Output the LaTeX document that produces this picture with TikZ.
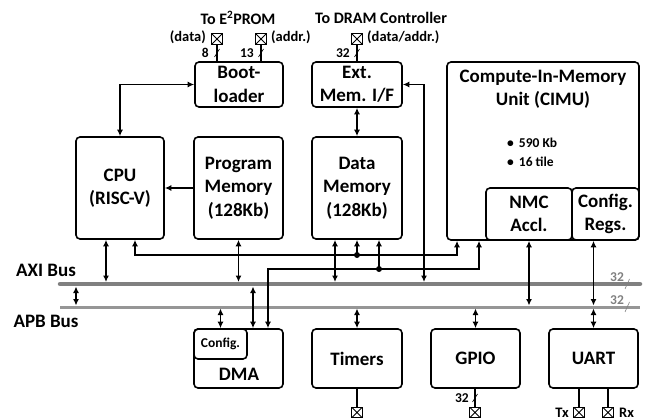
\documentclass[tikz,border=0pt]{standalone}
\usepackage{fontspec}
\setmainfont{Carlito}
\usetikzlibrary{arrows.meta,calc}
\definecolor{axicol}{RGB}{128,128,128}
\definecolor{apbcol}{RGB}{150,150,150}
\newcommand\bigf{\fontsize{19}{23.5}\selectfont\bfseries}
\newcommand\midf{\fontsize{16}{18}\selectfont\bfseries}
\newcommand\smf{\fontsize{14.5}{17}\selectfont\bfseries}
\newcommand\tinyf{\fontsize{13.5}{16}\selectfont\bfseries}
\begin{document}
\begin{tikzpicture}[x=1pt,y=-1pt,
  box/.style={draw, rounded corners=4pt, line width=1.6pt, align=center, inner sep=0pt, font=\bigf},
  con/.style={line width=1.7pt},
  dbl/.style={con, {Latex[length=6.5pt,width=6pt]}-{Latex[length=6.5pt,width=6pt]}},
  arr/.style={con, -{Latex[length=6.5pt,width=6pt]}},
  pinbox/.style={draw, line width=1.2pt, minimum size=10.5pt, inner sep=0pt,
    path picture={\draw[line width=1pt] (path picture bounding box.north west) -- (path picture bounding box.south east)
      (path picture bounding box.north east) -- (path picture bounding box.south west);}},
  jdot/.style={circle, fill, inner sep=0pt, minimum size=6pt},
  lbl/.style={inner sep=0pt, font=\smf},
  nlbl/.style={inner sep=0pt, font=\tinyf},
  mlbl/.style={inner sep=0pt, font=\midf},
  buslbl/.style={inner sep=0pt, font=\bigf},
  glbl/.style={inner sep=0pt, font=\tinyf, text=axicol},
  slash/.style={line width=0.6pt}]
\useasboundingbox (0,0) rectangle (646,420);

% ---- upper blocks
\node[box, minimum width=88pt, minimum height=102pt] (cpu) at (120,188) {CPU\\(RISC-V)};
\node[box, minimum width=89pt, minimum height=102pt] (pmem) at (238.5,188) {Program\\Memory\\(128Kb)};
\node[box, minimum width=90pt, minimum height=102pt] (dmem) at (357,188) {Data\\Memory\\(128Kb)};
\node[box, minimum width=88pt, minimum height=45pt] (boot) at (239,84.5) {Boot-\\loader};
\node[box, minimum width=90pt, minimum height=45pt] (ext) at (357,84.5) {Ext.\\Mem. I/F};
\node[box, minimum width=192pt, minimum height=178pt] (cimu) at (543,151) {};
\node[align=center, font=\bigf, inner sep=0pt] (cimut) at (543,89) {Compute-In-Memory\\Unit (CIMU)};
\node[nlbl, anchor=west] (b1) at (507,143) {\textbullet\hspace{5pt}590 Kb};
\node[nlbl, anchor=west] (b2) at (507,162) {\textbullet\hspace{5pt}16 tile};
\node[box, minimum width=86pt, minimum height=52pt] (nmc) at (529,214) {NMC\\Accl.};
\node[box, minimum width=67pt, minimum height=52pt] (creg) at (605.5,214) {Config.\\Regs.};

% ---- lower blocks
\node[box, minimum width=89pt, minimum height=59pt] (dma) at (238.5,358.5) {};
\node[box, minimum width=53pt, minimum height=30pt, font=\tinyf] (dcfg) at (220.5,344) {Config.};
\node[font=\bigf, inner sep=0pt] (dmat) at (239,374) {DMA};
\node[box, minimum width=90pt, minimum height=59pt] (tim) at (357,358.5) {Timers};
\node[box, minimum width=89pt, minimum height=59pt] (gpio) at (475.5,358.5) {GPIO};
\node[box, minimum width=89pt, minimum height=59pt] (uart) at (593.5,358.5) {UART};

% ---- pins
\node[pinbox] (pd) at (217,39) {};
\node[pinbox] (pa) at (261,39) {};
\node[pinbox] (pdr) at (357,39) {};
\node[pinbox] (pt) at (357,412.5) {};
\node[pinbox] (pg) at (475,412.5) {};
\node[pinbox] (ptx) at (579,412.5) {};
\node[pinbox] (prx) at (608,412.5) {};

\draw[con] (pd) -- (pd |- boot.north);
\draw[con] (pa) -- (pa |- boot.north);
\draw[con] (pdr) -- (ext.north);
\draw[con] (pt) -- (tim.south);
\draw[con] (pg) -- (pg |- gpio.south);
\draw[con] (ptx) -- (ptx |- uart.south);
\draw[con] (prx) -- (prx |- uart.south);

\draw[slash] (214.5,57) -- (219.5,49);
\draw[slash] (258.5,57) -- (263.5,49);
\draw[slash] (354.5,57) -- (359.5,49);
\draw[slash] (472.5,402) -- (477.5,394);

\node[nlbl, anchor=east] (n8) at (209,53) {8};
\node[nlbl, anchor=east] (n13) at (254,53) {13};
\node[nlbl, anchor=east] (n32) at (350,53) {32};
\node[nlbl, anchor=east] (n32g) at (469,398) {32};
\node[lbl, anchor=east] (ndata) at (206,37.5) {(data)};
\node[lbl, anchor=west] (naddr) at (271,37.5) {(addr.)};
\node[lbl, anchor=west] (ndraddr) at (367,37.5) {(data/addr.)};
\node[mlbl] (te2) at (238,18) {To E\textsuperscript{2}PROM};
\node[mlbl] (tdram) at (381,18) {To DRAM Controller};
\node[lbl, anchor=east] (ntx) at (569,413) {Tx};
\node[lbl, anchor=west] (nrx) at (619,413) {Rx};

% ---- buses
\coordinate (axiL) at (60,284);
\coordinate (axiR) at (640,284);
\coordinate (apbL) at (60,307);
\coordinate (apbR) at (640,307);
\draw[line width=4.5pt, axicol, line cap=round] (axiL) -- (axiR);
\draw[line width=3pt, apbcol] (apbL) -- (apbR);
\node[buslbl] (axil) at (46,270) {AXI Bus};
\node[buslbl] (apbl) at (46,321) {APB Bus};
\node[glbl] (g1) at (617,277) {32};
\node[glbl] (g2) at (617,300.5) {32};
\draw[slash, axicol] (625,289) -- (629.5,279);
\draw[slash, axicol] (625,312) -- (629.5,302);

\coordinate (axiT) at (0,282);
\coordinate (axiB) at (0,286.5);
\coordinate (apbT) at (0,305.5);
\coordinate (apbB) at (0,308.5);

% ---- connectors
\draw[dbl] (boot.west) -| (cpu.north);
\draw[arr] (pmem.west) -- (cpu.east);
\draw[dbl] (ext.south) -- (dmem.north);
\coordinate (xe) at (424,0);
\draw[dbl] (xe |- axiT) |- (ext.east);

\coordinate (x1) at (106,0);
\draw[dbl] (x1 |- cpu.south) -- (x1 |- axiT);
\draw[dbl] (pmem.south) -- (pmem.south |- axiT);
\coordinate (x3) at (335,0);
\draw[dbl] (x3 |- dmem.south) -- (x3 |- axiT);
\coordinate (x4) at (76,0);
\draw[dbl] (x4 |- axiB) -- (x4 |- apbT);
\draw[dbl] (dcfg.north |- apbB) -- (dcfg.north);
\coordinate (x5) at (253,0);
\draw[dbl] (x5 |- axiB) -- (x5 |- dma.north);
\draw[dbl] (tim.north |- apbB) -- (tim.north);
\draw[dbl] (gpio.north |- apbB) -- (gpio.north);
\draw[dbl] (uart.north |- apbB) -- (uart.north);
\draw[dbl] (nmc.south) -- (nmc.south |- apbT);
\draw[dbl] (uart.north |- creg.south) -- (uart.north |- apbT);

\coordinate (c1) at (135,255);
\coordinate (c2) at (457,255);
\coordinate (j1) at (357,255);
\draw[dbl] (c1 |- cpu.south) -- (c1) -- (c2) -- (c2 |- cimu.south);
\draw[arr] (j1) -- (dmem.south);
\node[jdot] (dot1) at (j1) {};

\coordinate (d1) at (268,269);
\coordinate (d2) at (479,269);
\coordinate (j2) at (379,269);
\draw[dbl] (d1 |- dma.north) -- (d1) -- (d2) -- (d2 |- cimu.south);
\draw[arr] (j2) -- (j2 |- dmem.south);
\node[jdot] (dot2) at (j2) {};
\end{tikzpicture}
\end{document}
